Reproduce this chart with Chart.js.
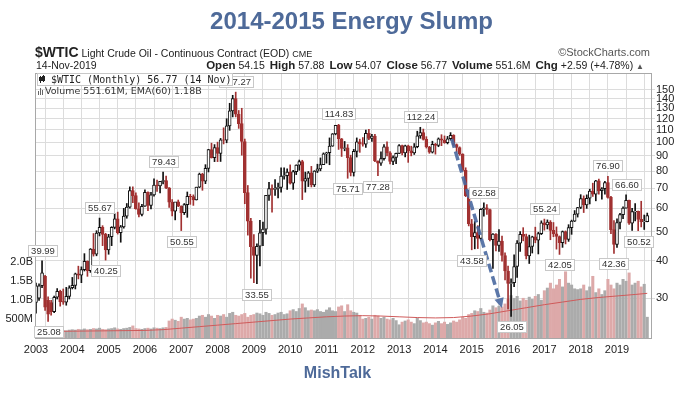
<!DOCTYPE html>
<html>
<head>
<meta charset="utf-8">
<script src="https://cdn.jsdelivr.net/npm/chart.js"></script>
<style>
  body { margin: 0; background: #fff; }
  #wrap { position: relative; width: 689px; height: 398px; overflow: hidden; font-family: "Liberation Sans", Arial, sans-serif; color: #222; }
  #wrap div { position: absolute; white-space: nowrap; }
  #wrap b { font-size: 11.5px; margin-left: 2px; }
  canvas { position: absolute; left: 0; top: 0; }
</style>
</head>
<body>
<div id="wrap">
  <canvas id="chart" width="689" height="398"></canvas>
  <div style="left:7px;width:689px;text-align:center;top:7px;font:bold 24px 'Liberation Sans';color:#4e6a99;">2014-2015 Energy Slump</div>
  <div style="left:35px;top:44px;font-size:10.5px;line-height:16px;"><span style="font:bold 14px 'Liberation Sans';">$WTIC</span> Light Crude Oil - Continuous Contract (EOD) <span style="font-size:9px">CME</span></div>
  <div style="right:39px;top:45px;font-size:11px;line-height:14px;color:#555;">&copy;StockCharts.com</div>
  <div style="left:36px;top:59px;font-size:10.5px;line-height:13px;">14-Nov-2019</div>
  <div style="right:45px;top:58px;font-size:10.5px;line-height:14px;"><b>Open</b> 54.15 <b>High</b> 57.88 <b>Low</b> 54.07 <b>Close</b> 56.77 <b>Volume</b> 551.6M <b>Chg</b> +2.59 (+4.78%) <span style="font-size:8px;color:#555">&#9650;</span></div>
  <div style="left:0;width:675px;text-align:center;top:364px;font:bold 16px 'Liberation Sans';color:#4e6a99;">MishTalk</div>
</div>
<script>
// monthly candles for $WTIC, Jan 2003 .. Nov 2019
const startYear = 2003;

const opens = [
  29.0, 30.0, 33.0, 35.5, 29.5, 29.0, 27.0, 30.2, 31.6, 29.2, 29.1, 30.4,
  32.5, 33.1, 36.2, 35.8, 37.4, 39.9, 37.1, 43.8, 42.1, 49.6, 51.8, 49.1,
  43.5, 48.2, 51.8, 55.4, 49.7, 52.0, 56.5, 60.6, 68.9, 66.2, 59.8, 57.3,
  61.0, 67.9, 61.4, 66.6, 71.9, 71.3, 73.9, 74.4, 70.3, 62.9, 58.7, 63.1,
  61.1, 58.1, 61.8, 65.9, 65.7, 64.0, 70.7, 78.2, 74.0, 81.7, 94.5, 88.7,
  96.0, 91.8, 101.8, 101.6, 113.5, 127.4, 140.0, 124.1, 115.5, 100.6, 67.8, 54.4,
  44.6, 41.7, 44.8, 49.7, 51.1, 66.3, 69.9, 69.5, 70.0, 70.6, 77.0, 77.3,
  79.4, 72.9, 79.7, 83.8, 86.2, 74.0, 75.6, 79.0, 71.9, 80.0, 81.4, 84.1,
  91.4, 92.2, 97.0, 106.7, 113.9, 102.7, 95.4, 95.7, 88.8, 79.2, 93.2, 100.4,
  98.8, 98.5, 107.1, 103.0, 104.9, 86.5, 85.0, 88.1, 96.5, 92.2, 86.2, 88.9,
  91.8, 97.5, 92.1, 97.2, 93.5, 92.0, 96.6, 105.0, 107.7, 102.3, 96.4, 92.7,
  98.4, 97.5, 102.6, 101.6, 99.7, 102.7, 105.4, 98.2, 96.0, 91.2, 80.5, 66.2,
  53.3, 48.2, 49.8, 47.6, 59.6, 60.3, 59.5, 47.1, 49.2, 45.1, 46.6, 41.7,
  37.0, 33.6, 33.8, 38.3, 45.9, 49.1, 48.3, 41.6, 44.7, 48.2, 46.9, 49.4,
  53.7, 52.8, 54.0, 50.6, 49.3, 48.3, 46.0, 50.2, 47.2, 51.7, 54.4, 57.4,
  60.4, 64.7, 61.6, 64.9, 68.6, 67.0, 74.2, 68.8, 69.8, 73.3, 65.3, 50.9,
  45.4, 53.8, 57.2, 60.1, 63.9, 53.5, 58.5, 58.6, 55.1, 54.1, 54.15
];
const highs = [
  33.7, 33.5, 39.99, 35.8, 30.3, 29.5, 30.5, 32.3, 31.9, 32.2, 32.6, 33.0,
  35.2, 36.4, 38.4, 38.2, 42.3, 40.0, 44.0, 49.4, 50.5, 55.67, 52.5, 49.5,
  49.1, 52.1, 57.6, 58.3, 52.6, 60.0, 62.3, 70.85, 70.9, 67.7, 62.6, 61.9,
  69.2, 68.2, 67.9, 75.35, 74.7, 74.0, 79.43, 77.0, 70.5, 64.2, 62.1, 64.0,
  61.2, 62.3, 68.1, 66.9, 66.6, 70.7, 78.8, 78.7, 84.1, 94.7, 99.3, 98.2,
  100.1, 103.0, 111.8, 119.9, 135.1, 143.7, 147.27, 127.8, 130.0, 102.5, 71.6, 55.6,
  49.0, 45.6, 54.7, 54.0, 66.4, 73.4, 72.0, 75.0, 72.9, 82.0, 82.0, 81.4,
  83.95, 80.5, 84.0, 87.15, 87.0, 79.4, 79.8, 83.0, 80.3, 84.4, 88.6, 92.1,
  92.6, 103.4, 106.95, 114.0, 114.83, 103.0, 100.6, 98.2, 90.5, 94.65, 103.4, 102.4,
  103.7, 109.95, 110.55, 106.3, 106.2, 86.6, 92.9, 98.3, 100.4, 93.0, 90.0, 91.9,
  98.2, 97.8, 97.8, 97.8, 97.0, 99.0, 108.9, 112.24, 110.7, 104.4, 96.9, 100.8,
  99.1, 103.4, 106.0, 104.99, 104.6, 107.7, 106.0, 98.7, 96.5, 91.5, 82.1, 69.0,
  55.1, 54.2, 52.5, 59.9, 62.58, 61.8, 59.7, 49.4, 49.4, 50.9, 48.4, 42.6,
  38.4, 34.8, 41.9, 46.8, 50.2, 51.7, 49.2, 48.8, 48.4, 51.9, 49.9, 54.5,
  55.24, 54.9, 54.6, 53.8, 52.0, 48.5, 50.4, 50.4, 52.9, 54.8, 59.0, 60.5,
  66.7, 66.1, 66.6, 69.6, 72.9, 74.5, 75.3, 70.4, 73.9, 76.90, 65.9, 54.6,
  55.4, 57.8, 60.7, 66.60, 64.0, 60.0, 62.3, 58.8, 63.4, 57.0, 57.88
];
const lows = [
  26.7, 29.5, 32.5, 27.3, 25.08, 26.3, 26.8, 29.8, 28.2, 28.6, 28.4, 29.8,
  32.2, 32.2, 34.8, 33.8, 37.0, 35.5, 36.6, 41.5, 41.6, 48.5, 45.0, 40.25,
  42.1, 45.0, 51.2, 49.2, 46.2, 51.5, 55.6, 60.1, 62.7, 59.6, 56.2, 56.6,
  60.9, 59.0, 59.8, 65.9, 68.4, 67.6, 72.5, 69.8, 60.4, 56.6, 54.9, 60.8,
  50.55, 57.2, 56.0, 61.9, 61.4, 64.0, 70.4, 69.0, 72.6, 79.5, 88.5, 86.1,
  86.1, 86.2, 98.7, 99.6, 109.6, 121.6, 121.6, 111.3, 90.5, 62.2, 48.8, 35.0,
  33.8, 33.55, 38.5, 45.0, 49.2, 63.8, 58.3, 66.3, 65.1, 68.0, 75.2, 69.5,
  72.4, 69.5, 77.9, 80.5, 64.2, 68.0, 71.0, 70.8, 71.0, 79.1, 80.2, 84.1,
  85.1, 84.05, 96.9, 105.9, 94.6, 89.6, 93.6, 75.71, 77.1, 77.0, 89.2, 92.5,
  97.0, 96.1, 102.1, 100.7, 86.1, 77.28, 83.6, 87.0, 90.0, 84.6, 84.1, 84.7,
  91.5, 90.6, 89.3, 85.6, 90.0, 91.0, 95.8, 103.1, 101.7, 95.6, 91.8, 92.0,
  91.2, 96.6, 97.4, 99.2, 98.7, 101.6, 97.3, 92.5, 90.4, 80.0, 65.7, 52.4,
  43.58, 43.9, 44.0, 47.0, 56.5, 57.3, 46.7, 37.75, 43.2, 43.0, 39.9, 34.5,
  27.6, 26.05, 32.8, 35.2, 43.0, 46.7, 40.6, 39.2, 42.5, 46.0, 42.2, 49.0,
  50.7, 51.2, 47.1, 48.2, 43.8, 42.05, 44.4, 45.6, 46.5, 49.1, 54.2, 56.1,
  59.9, 58.1, 60.0, 62.1, 65.8, 63.6, 67.0, 64.4, 67.0, 64.9, 49.4, 42.36,
  44.4, 51.2, 55.4, 60.1, 53.0, 50.6, 54.5, 50.52, 52.0, 50.99, 54.07
];
const closes = [
  33.0, 33.0, 36.5, 28.0, 26.5, 27.0, 30.2, 31.6, 29.2, 29.1, 30.4, 32.5,
  33.1, 36.2, 35.8, 37.4, 39.9, 37.1, 43.8, 42.1, 49.6, 51.8, 49.1, 43.5,
  48.2, 51.8, 55.4, 49.7, 52.0, 56.5, 60.6, 68.9, 66.2, 59.8, 57.3, 61.0,
  67.9, 61.4, 66.6, 71.9, 71.3, 73.9, 74.4, 70.3, 62.9, 58.7, 63.1, 61.1,
  58.1, 61.8, 65.9, 65.7, 64.0, 70.7, 78.2, 74.0, 81.7, 94.5, 88.7, 96.0,
  91.8, 101.8, 101.6, 113.5, 127.4, 140.0, 124.1, 115.5, 100.6, 67.8, 54.4, 44.6,
  41.7, 44.8, 49.7, 51.1, 66.3, 69.9, 69.5, 70.0, 70.6, 77.0, 77.3, 79.4,
  72.9, 79.7, 83.8, 86.2, 74.0, 75.6, 79.0, 71.9, 80.0, 81.4, 84.1, 91.4,
  92.2, 97.0, 106.7, 113.9, 102.7, 95.4, 95.7, 88.8, 79.2, 93.2, 100.4, 98.8,
  98.5, 107.1, 103.0, 104.9, 86.5, 85.0, 88.1, 96.5, 92.2, 86.2, 88.9, 91.8,
  97.5, 92.1, 97.2, 93.5, 92.0, 96.6, 105.0, 107.7, 102.3, 96.4, 92.7, 98.4,
  97.5, 102.6, 101.6, 99.7, 102.7, 105.4, 98.2, 96.0, 91.2, 80.5, 66.2, 53.3,
  48.2, 49.8, 47.6, 59.6, 60.3, 59.5, 47.1, 49.2, 45.1, 46.6, 41.7, 37.0,
  33.6, 33.8, 38.3, 45.9, 49.1, 48.3, 41.6, 44.7, 48.2, 46.9, 49.4, 53.7,
  52.8, 54.0, 50.6, 49.3, 48.3, 46.0, 50.2, 47.2, 51.7, 54.4, 57.4, 60.4,
  64.7, 61.6, 64.9, 68.6, 67.0, 74.2, 68.8, 69.8, 73.3, 65.3, 50.9, 45.4,
  53.8, 57.2, 60.1, 63.9, 53.5, 58.5, 58.6, 55.1, 54.1, 54.2, 56.77
];
// monthly volume, billions of contracts
const volumes = [
  .20, .22, .24, .21, .19, .18, .20, .19, .21, .20, .19, .21,
  .22, .21, .23, .22, .24, .22, .23, .25, .24, .26, .23, .22,
  .24, .25, .27, .24, .23, .25, .26, .28, .32, .25, .24, .23,
  .25, .26, .24, .27, .26, .25, .27, .28, .45, .50, .47, .44,
  .55, .50, .52, .48, .50, .52, .58, .60, .55, .62, .58, .52,
  .60, .58, .62, .55, .65, .68, .60, .58, .62, .65, .55, .60,
  .62, .66, .64, .60, .68, .65, .60, .62, .66, .68, .62, .64,
  .72, .75, .70, .78, .90, .80, .72, .74, .72, .75, .70, .68,
  .74, .80, .72, .70, .82, .85, .70, .88, .72, .68, .66, .60,
  .50, .52, .55, .50, .60, .58, .52, .55, .50, .48, .52, .46,
  .35, .42, .45, .48, .42, .38, .52, .46, .40, .42, .38, .34,
  .40, .44, .38, .42, .36, .40, .45, .42, .48, .55, .52, .62,
  .65, .72, .70, .78, .68, .66, .74, .85, .80, .84, .82, .90,
  1.02, 1.12, 1.05, 1.10, .98, 1.05, 1.00, 1.08, 1.02, 1.10, 1.15, 1.00,
  1.25, 1.32, 1.45, 1.30, 1.40, 1.55, 1.35, 1.75, 1.45, 1.40, 1.30, 1.28,
  1.30, 1.40, 1.25, 1.35, 1.63, 1.20, 1.30, 1.15, 1.25, 1.55, 1.40, 1.30,
  1.45, 1.40, 1.55, 1.50, 1.72, 1.40, 1.45, 1.50, 1.35, 1.42, .55
];
// EMA(60) of volume
const emaDates = [2003, 2004, 2005, 2006, 2006.5, 2007, 2007.5, 2008, 2008.5, 2009, 2009.5, 2010, 2010.5,
  2011, 2011.5, 2012, 2012.5, 2013, 2013.5, 2014, 2014.5, 2015, 2015.5, 2016, 2016.5, 2017, 2017.5,
  2018, 2018.5, 2019, 2019.5, 2019.833];
const emaValues = [0.17, 0.18, 0.19, 0.20, 0.22, 0.26, 0.30, 0.34, 0.38, 0.42, 0.46, 0.50, 0.53,
  0.56, 0.58, 0.59, 0.58, 0.56, 0.54, 0.53, 0.54, 0.58, 0.64, 0.72, 0.80, 0.88, 0.95,
  1.02, 1.07, 1.11, 1.15, 1.18];

const priceTicks = [30, 40, 50, 60, 70, 80, 90, 100, 110, 120, 130, 140, 150];
const volumeTicks = [0.5, 1, 1.5, 2];
const volumeTickLabels = ["500M", "1.0B", "1.5B", "2.0B"];
const gridYears = [];
for (let y = 2003; y <= 2019.5; y += 0.5) gridYears.push(y);

// labelled highs/lows: month index, value, side
const priceNotes = [
  [2, 39.99, "above"], [4, 25.08, "below"], [21, 55.67, "above"], [23, 40.25, "below"],
  [42, 79.43, "above"], [48, 50.55, "below"], [66, 147.27, "above"], [73, 33.55, "below"],
  [100, 114.83, "above"], [103, 75.71, "below"], [113, 77.28, "below"], [127, 112.24, "above"],
  [144, 43.58, "below"], [148, 62.58, "above"], [157, 26.05, "below"], [168, 55.24, "above"],
  [173, 42.05, "below"], [189, 76.90, "above"], [191, 42.36, "below"], [195, 66.60, "above"],
  [199, 50.52, "below"]
];
// dashed arrow: [year, price] start and end
const arrowFrom = [2014.45, 102.5];
const arrowTo = [2015.83, 27.8];

const months = opens.map((_, i) => startYear + i / 12);
const up = closes.map((c, i) => c >= opens[i]);
const red = "#a13131";

const overlay = {
  id: "overlay",
  afterDatasetsDraw(chart) {
    const { ctx, chartArea: a } = chart;
    const xs = chart.scales.x, ps = chart.scales.price;
    ctx.save();

    // plot frame
    ctx.strokeStyle = "#a8a8a8";
    ctx.lineWidth = 1;
    ctx.strokeRect(a.left + 0.5, a.top + 0.5, a.right - a.left - 1, a.bottom - a.top);

    // arrow
    const x1 = xs.getPixelForValue(arrowFrom[0]), y1 = ps.getPixelForValue(arrowFrom[1]);
    const x2 = xs.getPixelForValue(arrowTo[0]), y2 = ps.getPixelForValue(arrowTo[1]);
    const ang = Math.atan2(y2 - y1, x2 - x1);
    ctx.strokeStyle = "rgba(74,105,160,0.9)";
    ctx.lineWidth = 3.5;
    ctx.setLineDash([9, 4]);
    ctx.beginPath();
    ctx.moveTo(x1, y1);
    ctx.lineTo(x2 - 8 * Math.cos(ang), y2 - 8 * Math.sin(ang));
    ctx.stroke();
    ctx.setLineDash([]);
    ctx.fillStyle = "rgba(74,105,160,0.9)";
    ctx.beginPath();
    ctx.moveTo(x2, y2);
    ctx.lineTo(x2 - 11 * Math.cos(ang - 0.45), y2 - 11 * Math.sin(ang - 0.45));
    ctx.lineTo(x2 - 11 * Math.cos(ang + 0.45), y2 - 11 * Math.sin(ang + 0.45));
    ctx.closePath();
    ctx.fill();

    // value boxes
    ctx.lineWidth = 1;
    ctx.font = "9.5px 'Liberation Sans'";
    ctx.textBaseline = "middle";
    ctx.textAlign = "center";
    priceNotes.forEach(([i, v, side]) => {
      const px = xs.getPixelForValue(months[i]);
      const py = ps.getPixelForValue(v);
      const txt = v.toFixed(2);
      const w = Math.round(ctx.measureText(txt).width) + 5, h = 11;
      let top = side === "above" ? py - 5 - h : py + 5;
      top = Math.round(Math.max(top, a.top + 2)) + 0.5;
      const left = Math.round(px - w / 2) + 0.5;
      ctx.fillStyle = "#fff";
      ctx.fillRect(left, top, w, h);
      ctx.strokeStyle = "#c8c8c8";
      ctx.strokeRect(left, top, w, h);
      ctx.fillStyle = "#333";
      ctx.fillText(txt, left + w / 2, top + 6);
    });

    // legend box
    ctx.fillStyle = "#fff";
    ctx.fillRect(37.5, 73.5, 195, 12);
    ctx.strokeStyle = "#c8c8c8";
    ctx.strokeRect(37.5, 73.5, 195, 12);
    ctx.strokeStyle = "#222";
    ctx.beginPath();
    ctx.moveTo(40.5, 76); ctx.lineTo(40.5, 83);
    ctx.moveTo(43.5, 75); ctx.lineTo(43.5, 82);
    ctx.stroke();
    ctx.strokeRect(39.5, 77.5, 2, 3);
    ctx.strokeRect(42.5, 76.5, 2, 4);
    ctx.fillStyle = "#222";
    ctx.textAlign = "left";
    ctx.font = "10px 'DejaVu Sans Mono'";
    ctx.fillText("$WTIC (Monthly) 56.77 (14 Nov)", 51, 80);
    ctx.fillStyle = "#666";
    ctx.fillRect(38, 91, 1, 4); ctx.fillRect(40, 88, 1, 7); ctx.fillRect(42, 90, 1, 5);
    ctx.fillStyle = "#333";
    ctx.font = "9.5px 'DejaVu Sans'";
    ctx.fillText("Volume 551.61M, EMA(60) 1.18B", 45, 92);
    ctx.restore();
  }
};

const tickFont = { family: "'Liberation Sans', Arial", size: 11 };

new Chart(document.getElementById("chart"), {
  type: "bar",
  data: {
    datasets: [
      {
        label: "Volume", yAxisID: "vol", order: 4, grouped: false, barThickness: 2.4,
        data: months.map((m, i) => ({ x: m, y: volumes[i] })),
        backgroundColor: up.map(u => u ? "#ababab" : "#dda9a9")
      },
      {
        type: "line", label: "EMA(60)", yAxisID: "vol", order: 3,
        data: emaDates.map((d, i) => ({ x: d, y: emaValues[i] })),
        borderColor: "#cf5a5a", borderWidth: 1, pointRadius: 0, tension: 0
      },
      {
        label: "Range", yAxisID: "price", order: 2, grouped: false, barThickness: 1,
        data: months.map((m, i) => ({ x: m, y: [lows[i], highs[i]] })),
        backgroundColor: up.map(u => u ? "#111" : red)
      },
      {
        label: "Body", yAxisID: "price", order: 1, grouped: false, barThickness: 3,
        data: months.map((m, i) => ({ x: m, y: [opens[i], closes[i]] })),
        backgroundColor: up.map(u => u ? "#fff" : red),
        borderColor: up.map(u => u ? "#111" : red),
        borderWidth: 1, borderSkipped: false
      }
    ]
  },
  options: {
    responsive: false,
    animation: false,
    devicePixelRatio: 1,
    events: [],
    layout: { padding: { top: 73, left: 0, right: 0, bottom: 0 } },
    plugins: { legend: { display: false }, tooltip: { enabled: false } },
    scales: {
      x: {
        type: "linear", min: 2002.9725, max: 2019.964, offset: false,
        afterBuildTicks: s => { s.ticks = gridYears.map(v => ({ value: v })); },
        afterFit: s => { s.height = 60; },
        grid: { color: "#dcdcdc", drawTicks: false },
        border: { display: false },
        ticks: {
          padding: 5, autoSkip: false, maxRotation: 0, font: tickFont, color: "#222",
          callback: v => Number.isInteger(v) ? String(v) : ""
        }
      },
      price: {
        type: "logarithmic", position: "right", min: 22.05, max: 170.7,
        afterBuildTicks: s => { s.ticks = priceTicks.map(v => ({ value: v })); },
        afterFit: s => { s.width = 37; },
        grid: { color: "#dcdcdc", tickLength: 3 },
        border: { display: false },
        ticks: { padding: 1, font: tickFont, color: "#222", callback: v => String(v) }
      },
      vol: {
        type: "linear", position: "left", min: 0, max: 7,
        afterBuildTicks: s => { s.ticks = volumeTicks.map(v => ({ value: v })); },
        afterFit: s => { s.width = 35; },
        grid: { drawOnChartArea: false, drawTicks: false },
        border: { display: false },
        ticks: { padding: 2, font: tickFont, color: "#222",
          callback: v => volumeTickLabels[volumeTicks.indexOf(v)] }
      }
    }
  },
  plugins: [overlay]
});
</script>
</body>
</html>
